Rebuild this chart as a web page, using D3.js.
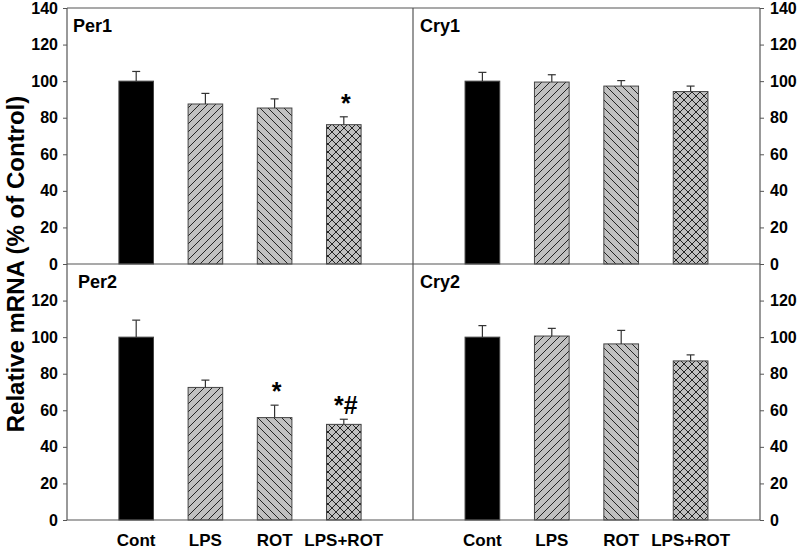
<!DOCTYPE html>
<html>
<head>
<meta charset="utf-8">
<script src="https://cdn.jsdelivr.net/npm/d3@7/dist/d3.min.js"></script>
<style>
  html, body { margin: 0; padding: 0; background: #fff; }
  text { font-family: Arial, "Liberation Sans", sans-serif; font-weight: bold; }
</style>
</head>
<body>
<svg id="chart" width="800" height="550"></svg>
<script>
// ---- data ----
const categories = ["Cont", "LPS", "ROT", "LPS+ROT"];
const genes = ["Per1", "Cry1", "Per2", "Cry2"];
const per1Values = [100, 87.5, 85.3, 76.2];
const per1Errors = [5.3, 5.8, 5.0, 4.3];
const cry1Values = [100, 99.5, 97.3, 94.3];
const cry1Errors = [4.8, 4.0, 3.0, 3.0];
const per2Values = [100, 72.5, 56.0, 52.3];
const per2Errors = [9.3, 4.0, 6.8, 2.8];
const cry2Values = [100, 100.6, 96.3, 87.0];
const cry2Errors = [6.3, 4.2, 7.4, 3.3];
const per1Marks = ["", "", "", "*"];
const cry1Marks = ["", "", "", ""];
const per2Marks = ["", "", "*", "*#"];
const cry2Marks = ["", "", "", ""];
const topTicks = [0, 20, 40, 60, 80, 100, 120, 140];
const bottomTicks = [0, 20, 40, 60, 80, 100, 120];
const yLabel = "Relative mRNA (% of Control)";

// ---- layout ----
const svg = d3.select("#chart");
const L = 67, M = 413, R = 760, T = 8, MY = 264, B = 520;
const axisColor = "#555";

const defs = svg.append("defs");
function hatch(id, d) {
  const p = defs.append("pattern").attr("id", id)
    .attr("patternUnits", "userSpaceOnUse").attr("width", 8).attr("height", 8);
  p.append("rect").attr("width", 8).attr("height", 8).attr("fill", "#c0c0c0");
  p.append("path").attr("d", d).attr("stroke", "#111").attr("stroke-width", 0.9).attr("fill", "none");
}
const fwd = "M0,8 L8,0 M-2,2 L2,-2 M6,10 L10,6";
const bwd = "M0,0 L8,8 M-2,6 L2,10 M6,-2 L10,2";
hatch("fwd", fwd);
hatch("bwd", bwd);
hatch("cross", fwd + " " + bwd);
const fills = ["#000", "url(#fwd)", "url(#bwd)", "url(#cross)"];

const panels = [
  { name: genes[0], values: per1Values, errors: per1Errors, marks: per1Marks, x0: L, x1: M, y0: MY, y1: T, ticks: topTicks, tdx: 6 },
  { name: genes[1], values: cry1Values, errors: cry1Errors, marks: cry1Marks, x0: M, x1: R, y0: MY, y1: T, ticks: topTicks, tdx: 7 },
  { name: genes[2], values: per2Values, errors: per2Errors, marks: per2Marks, x0: L, x1: M, y0: B, y1: MY, ticks: bottomTicks, tdx: 11 },
  { name: genes[3], values: cry2Values, errors: cry2Errors, marks: cry2Marks, x0: M, x1: R, y0: B, y1: MY, ticks: bottomTicks, tdx: 7 }
];

panels.forEach((p, pi) => {
  const x = d3.scalePoint().domain(categories).range([p.x0, p.x1]).padding(1);
  const y = d3.scaleLinear().domain([0, 140]).range([p.y0, p.y1]);
  const bw = x.step() * 0.5;
  const g = svg.append("g");

  // bars
  g.selectAll("rect.bar").data(categories).join("rect")
    .attr("class", "bar")
    .attr("x", c => x(c) - bw / 2)
    .attr("y", (c, i) => y(p.values[i]))
    .attr("width", bw)
    .attr("height", (c, i) => y(0) - y(p.values[i]))
    .attr("fill", (c, i) => fills[i])
    .attr("stroke", "#444").attr("stroke-width", 1);

  // error bars (upper only)
  const eb = g.selectAll("g.err").data(categories).join("g").attr("class", "err");
  eb.append("line")
    .attr("x1", c => x(c)).attr("x2", c => x(c))
    .attr("y1", (c, i) => y(p.values[i]))
    .attr("y2", (c, i) => y(p.values[i] + p.errors[i]))
    .attr("stroke", "#333").attr("stroke-width", 1.2);
  eb.append("line")
    .attr("x1", c => x(c) - 4).attr("x2", c => x(c) + 4)
    .attr("y1", (c, i) => y(p.values[i] + p.errors[i]))
    .attr("y2", (c, i) => y(p.values[i] + p.errors[i]))
    .attr("stroke", "#333").attr("stroke-width", 1.2);

  // significance marks
  g.selectAll("text.mark").data(categories).join("text")
    .attr("class", "mark")
    .attr("x", c => x(c) + 2)
    .attr("y", (c, i) => y(p.values[i] + p.errors[i]) - 5)
    .attr("text-anchor", "middle")
    .attr("font-size", 25)
    .text((c, i) => p.marks[i]);

  // panel title
  g.append("text").attr("x", p.x0 + p.tdx).attr("y", p.y1 + 24)
    .attr("font-size", 18).text(p.name);

  // y axes on outer sides
  if (p.x0 === L) {
    const ax = g.append("g").attr("transform", `translate(${L},0)`)
      .call(d3.axisLeft(y).tickValues(p.ticks).tickSize(4).tickPadding(5));
    styleAxis(ax);
  } else {
    const ax = g.append("g").attr("transform", `translate(${R},0)`)
      .call(d3.axisRight(y).tickValues(p.ticks).tickSize(4).tickPadding(6));
    styleAxis(ax);
  }

  // category labels on bottom panels
  if (p.y0 === B) {
    g.selectAll("text.cat").data(categories).join("text")
      .attr("class", "cat")
      .attr("x", c => x(c)).attr("y", 546)
      .attr("text-anchor", "middle").attr("font-size", 17)
      .text(c => c);
  }
});

function styleAxis(ax) {
  ax.select(".domain").remove();
  ax.selectAll(".tick line").attr("stroke", axisColor);
  ax.selectAll(".tick text").attr("font-size", 16).attr("fill", "#000")
    .style("font-family", "Arial, 'Liberation Sans', sans-serif").style("font-weight", "bold");
}

// frame lines
const frame = svg.append("g").attr("stroke", axisColor).attr("stroke-width", 1.2);
[[L, T, R, T], [L, MY, R, MY], [L, B, R, B], [L, T, L, B], [M, T, M, B], [R, T, R, B]].forEach(s => {
  frame.append("line").attr("x1", s[0]).attr("y1", s[1]).attr("x2", s[2]).attr("y2", s[3]);
});

// y label
svg.append("text")
  .attr("transform", `translate(24,${MY}) rotate(-90)`)
  .attr("text-anchor", "middle").attr("font-size", 24)
  .text(yLabel);
</script>
</body>
</html>
